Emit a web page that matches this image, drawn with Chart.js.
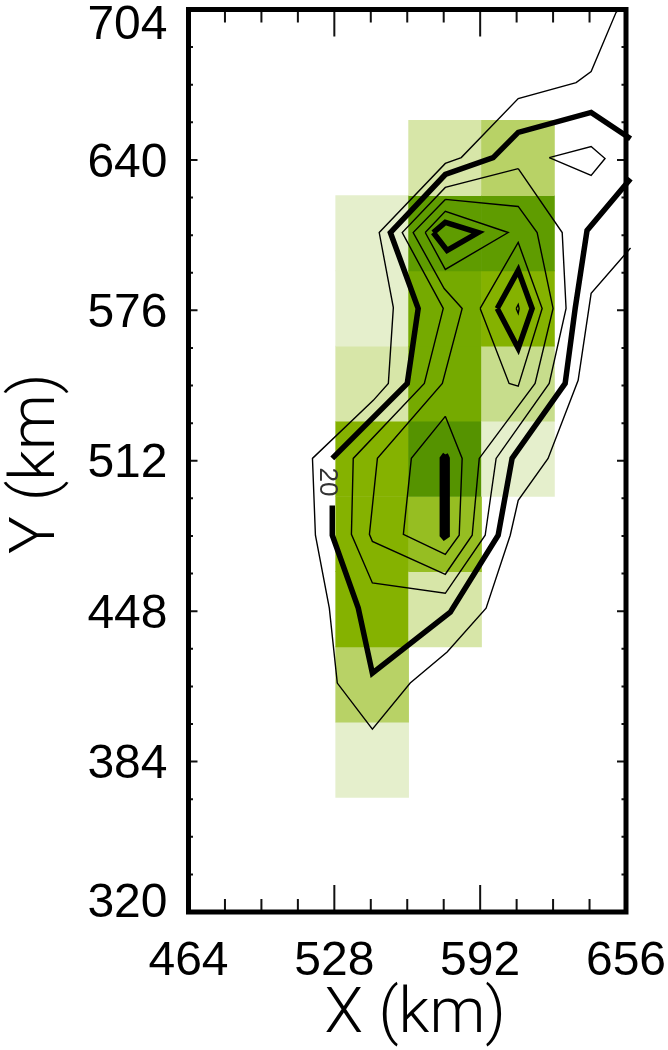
<!DOCTYPE html>
<html>
<head>
<meta charset="utf-8">
<style>
    html, body { margin: 0; padding: 0; background: #fff; }
    canvas { display: block; }
</style>
<script src="https://cdn.jsdelivr.net/npm/chart.js@4"></script>
</head>
<body>
<canvas id="mapChart" width="668" height="1050"></canvas>
<script>
// Eixos
const xTicks = [464, 528, 592, 656];
const yTicks = [320, 384, 448, 512, 576, 640, 704];

// Células (centro X, limite inferior, nível)
const cellX     = [544.6, 544.6, 544.6, 544.6, 544.6, 544.6, 544.6, 544.6, 576.6, 576.6, 576.6, 576.6, 576.6, 576.6, 576.6, 608.6, 608.6, 608.6, 608.6, 608.6];
const cellYLow  = [368.8, 400.8, 432.8, 464.8, 496.8, 528.8, 560.8, 592.8, 432.8, 464.8, 496.8, 528.8, 560.8, 592.8, 624.8, 496.8, 528.8, 560.8, 592.8, 624.8];
const cellLevel = [10, 30, 50, 50, 50, 20, 10, 10, 20, 45, 65, 55, 55, 60, 20, 10, 25, 50, 60, 30];

// Contornos (x km, y km)
const outerLine = [[653, 704], [651.6, 702.7], [640.7, 677.6], [634.1, 672.9], [608.7, 666.1], [583.7, 641], [576.7, 638.5], [547.7, 609.1], [553.9, 577.2], [551.7, 544.9], [545.1, 537.7], [518.4, 513], [519.7, 480.3], [525.8, 449.3], [529.3, 417.4], [544.7, 397.8], [561.3, 417.4], [577.5, 430.6], [594.6, 449.3], [605.2, 480.3], [608.7, 495.2], [621.8, 513], [635, 546.2], [640.7, 583.2], [658, 602.5]];
const outerIsland = [[622.3, 641], [640.7, 645.7], [646.8, 640.6], [640.7, 633.4], [622.3, 641]];
const line20Upper = [[658, 649], [640.7, 660.2], [608.7, 651.7], [597.7, 641], [576.7, 633.8], [552.6, 609.1], [564.8, 576.8], [560, 544.9], [527.1, 513]];
const line20Lower = [[527.1, 493], [527.1, 480.3], [538.5, 449.3], [544.7, 421.6], [578.9, 447.6], [599.9, 480.3], [606, 513], [629.3, 544.9], [633.7, 576.8], [638.9, 610], [658, 632]];
const line30 = [[608.7, 636.3], [576.7, 628.3], [557.8, 609.1], [575.8, 576.8], [567.5, 544.9], [536.3, 513], [535.5, 480.7], [544.7, 460], [576.7, 455.6], [594.2, 480.3], [599, 513], [622.3, 544.9], [629.7, 576.8], [628, 609.1], [608.7, 636.3]];
const line40 = [[576.7, 623.2], [608.7, 620.2], [617, 609.1], [624, 576.8], [616.1, 544.9], [591.6, 513], [588.5, 480.3], [576.7, 463.7], [544.7, 477.7], [543.4, 480.7], [546.9, 513], [575.4, 544.9], [584.1, 576.8], [576.2, 585.3], [562.6, 609.1], [576.7, 623.2]];
const line50Right = [[592, 576.8], [608.7, 604.9], [619.2, 576.8], [608.7, 543.7], [604.7, 544.9], [592, 576.8]];
const line50Top = [[567.9, 609.1], [576.7, 618.1], [604.3, 609.1], [576.7, 593.4], [567.9, 609.1]];
const line50Low = [[576.7, 530.9], [584.1, 513], [582.8, 480.3], [576.7, 472.2], [558.3, 480.7], [561.8, 513], [576.7, 530.9]];
const line60Top = [[571.4, 609.1], [576.7, 613.4], [591.1, 609.1], [577.5, 601.5], [571.4, 609.1]];
const line60Right = [[599.5, 576.8], [608.7, 593], [614.8, 576.8], [608.7, 559.8], [599.5, 576.8]];
const line60Low = [[576.7, 514.7], [577.5, 513], [577.5, 480.3], [576.2, 479.4], [575.4, 480.3], [575.4, 513], [576.7, 514.7]];
const line70Right = [[607.8, 576.8], [608.7, 578.5], [609.1, 576.8], [608.7, 574.7], [607.8, 576.8]];

const thinLines = [outerLine, outerIsland, line30, line40, line50Right, line50Top, line50Low, line70Right];
const thickLines = [line20Upper, line20Lower, line60Top, line60Right, line60Low];

const levelColors = { 10: '#e5efcc', 20: '#d7e6a8', 25: '#c7dd8c', 30: '#b8d266', 45: '#96be22', 50: '#85b200', 55: '#75aa00', 60: '#5f9c00', 65: '#559300' };
const fontFamily = '"Liberation Sans", Arial, sans-serif';
const titleFont = { family: 'Roboto, "Liberation Sans", sans-serif', size: 63, weight: '300', lineHeight: 1 };

function lineDataset(points, width) {
    return {
        type: 'line',
        order: 1,
        clip: 0,
        data: points.map(p => ({ x: p[0], y: p[1] })),
        borderColor: '#000',
        borderWidth: width,
        borderJoinStyle: 'miter',
        pointRadius: 0,
        tension: 0,
        fill: false
    };
}

// Moldura, marcas para dentro e o rótulo "20" do contorno
const framePlugin = {
    id: 'frame',
    beforeDraw(chart) {
        // títulos dos eixos não ficam bem no centro da área na figura
        const { chartArea: a, scales: { x, y } } = chart;
        x.right = a.right + 16;
        y.bottom = a.bottom + 6;
    },
    afterDatasetsDraw(chart) {
        const { ctx, chartArea: a, scales: { x, y } } = chart;
        ctx.save();
        ctx.strokeStyle = '#111';
        ctx.lineWidth = 2;
        ctx.beginPath();
        for (let v = x.min; v <= x.max; v += 16) {
            const px = x.getPixelForValue(v);
            const len = (v - x.min) % 64 === 0 ? 27 : 13;
            ctx.moveTo(px, a.top); ctx.lineTo(px, a.top + len);
            ctx.moveTo(px, a.bottom); ctx.lineTo(px, a.bottom - len);
        }
        for (let v = y.min; v <= y.max; v += 16) {
            const py = y.getPixelForValue(v);
            const len = (v - y.min) % 64 === 0 ? 9 : 4.5;
            ctx.moveTo(a.left, py); ctx.lineTo(a.left + len, py);
            ctx.moveTo(a.right, py); ctx.lineTo(a.right - len, py);
        }
        ctx.stroke();

        ctx.strokeStyle = '#000';
        ctx.lineWidth = 5;
        ctx.strokeRect(a.left, a.top, a.right - a.left, a.bottom - a.top);

        ctx.translate(x.getPixelForValue(527.1) - 5, y.getPixelForValue(503));
        ctx.rotate(Math.PI / 2);
        ctx.fillStyle = '#333';
        ctx.font = '26px ' + fontFamily;
        ctx.textAlign = 'center';
        ctx.textBaseline = 'middle';
        ctx.fillText('20', 0, 0);
        ctx.restore();
    }
};

new Chart(document.getElementById('mapChart'), {
    type: 'bar',
    data: {
        datasets: [
            ...thinLines.map(l => lineDataset(l, 1.4)),
            ...thickLines.map(l => lineDataset(l, 5.5)),
            {
                type: 'bar',
                order: 2,
                data: cellX.map((x, i) => ({ x: x, y: [cellYLow[i], cellYLow[i] + 32] })),
                backgroundColor: cellLevel.map(v => levelColors[v]),
                barPercentage: 1,
                categoryPercentage: 1,
                borderWidth: 0
            }
        ]
    },
    options: {
        responsive: false,
        animation: false,
        layout: { padding: { top: 9.5, right: 42, left: 0, bottom: 0 } },
        plugins: { legend: { display: false }, tooltip: { enabled: false } },
        scales: {
            x: {
                type: 'linear',
                offset: false,
                min: 464,
                max: 656,
                grid: { display: false, drawTicks: false },
                border: { display: false },
                afterBuildTicks: s => { s.ticks = xTicks.map(v => ({ value: v })); },
                afterFit: s => { s.height = 138; s.paddingLeft = 0; s.paddingRight = 0; },
                ticks: {
                    autoSkip: false,
                    maxRotation: 0,
                    padding: 26,
                    color: '#000',
                    font: { family: fontFamily, size: 48, lineHeight: 1 }
                },
                title: {
                    display: true,
                    text: 'X (km)',
                    color: '#000',
                    font: titleFont,
                    padding: { top: 0, bottom: 2 }
                }
            },
            y: {
                type: 'linear',
                min: 320,
                max: 704,
                grid: { display: false, drawTicks: false },
                border: { display: false },
                // 704 e 320 ficam deslocados para dentro, como na figura
                afterBuildTicks: s => {
                    s.ticks = yTicks.map(v => ({ value: v === 704 ? 698.5 : v === 320 ? 324.9 : v }));
                },
                afterFit: s => { s.width = 188.5; s.paddingTop = 0; s.paddingBottom = 0; },
                ticks: {
                    autoSkip: false,
                    padding: 21,
                    labelOffset: 3.5,
                    color: '#000',
                    font: { family: fontFamily, size: 48, lineHeight: 1 },
                    callback: (value, index) => String(yTicks[index])
                },
                title: {
                    display: true,
                    text: 'Y (km)',
                    color: '#000',
                    font: titleFont,
                    padding: { top: 7, bottom: 0 }
                }
            }
        }
    },
    plugins: [framePlugin]
});
</script>
</body>
</html>
